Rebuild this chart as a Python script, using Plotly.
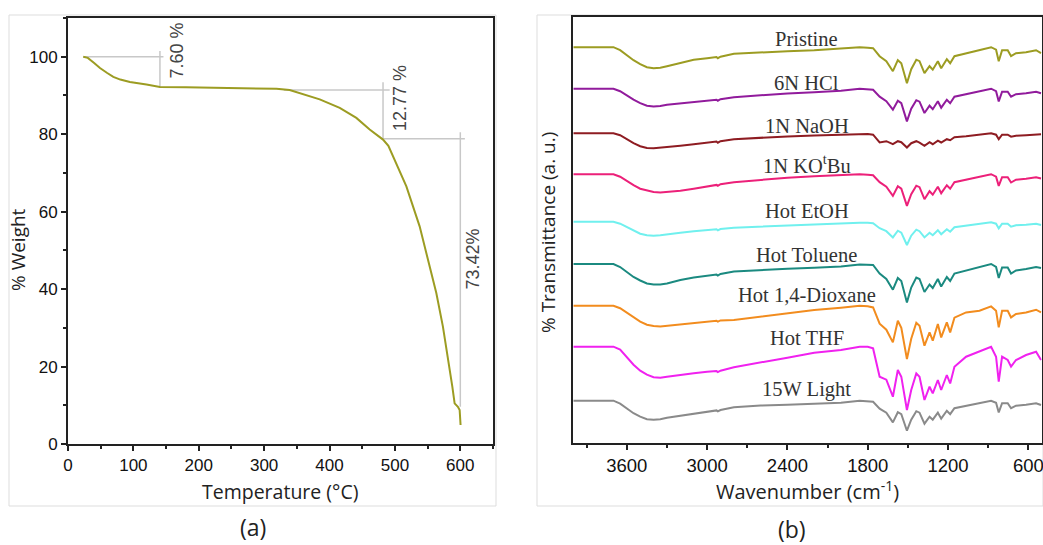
import plotly.graph_objects as go

# ---------------- (a) TGA data ----------------
temp_c = [23.4, 30.3, 40, 48.9, 60, 69.3, 80, 94.7, 120, 140.6, 180, 220, 260, 300,
          318.8, 339, 359.6, 385, 415.6, 441, 461.4, 481.8, 490, 497, 517.5, 537.8,
          550.5, 563.3, 573.4, 583.6, 587.8, 591.3, 596.3, 599, 600.4]
weight_pct = [100, 99.7, 98.4, 97.1, 95.8, 94.8, 94.1, 93.5, 92.8, 92.2, 92.1, 92.0,
              91.9, 91.8, 91.7, 91.4, 90.3, 89.0, 86.8, 84.2, 81.2, 78.6, 77.0, 74.3,
              66.5, 56.2, 47.6, 39.0, 30.3, 20.0, 14.8, 10.5, 9.6, 8.8, 4.9]

# weight-loss step markers
loss_labels = ["7.60 %", "12.77 %", "73.42%"]
loss_x = [140.6, 481.8, 600]
loss_top = [101.5, 93.4, 80.5]
loss_bottom = [92.2, 78.6, 9.6]
level_y = [100, 91.4, 78.8]
level_x0 = [23, 330, 481.8]
level_x1 = [146, 492, 607]
label_x = [166, 507, 619]
label_y = [101.5, 89.2, 47.8]

# ---------------- (b) FTIR data ----------------
wavenumber = [4000, 3900, 3800, 3700, 3650, 3600, 3550, 3500, 3450, 3400, 3350, 3300,
              3200, 3100, 3000, 2930, 2920, 2900, 2800, 2600, 2400, 2200, 2000, 1860,
              1800, 1760, 1711, 1661, 1612, 1575, 1549, 1507, 1475, 1437, 1413, 1376,
              1338, 1314, 1276, 1251, 1209, 1184, 1152, 1065, 965, 878, 841, 821, 796,
              754, 729, 692, 617, 542, 505]

pristine = [395.5, 395.5, 395.5, 395.5, 392.5, 387.5, 382.5, 378.5, 375.5, 374.5, 375, 376.5,
            379.5, 383, 384.5, 385.7, 384.5, 386, 389, 390.5, 391.5, 392.5, 394, 395.5,
            395, 394.5, 386.5, 381.5, 371.5, 382.5, 379.5, 359.5, 373.5, 383, 381.5, 369.5,
            376.5, 373, 381.5, 374.5, 383.5, 379.5, 386.5, 389.5, 393, 395.5, 393, 381.5, 392.5,
            392.5, 386.5, 389.5, 390.5, 392.5, 389.5]
hcl_6n = [354, 354, 354, 354, 351.5, 347, 343, 339.5, 337, 336.3, 336.7, 338,
          339.5, 341, 342.5, 343, 342, 343.5, 345.5, 347.5, 349.2, 350.5, 352, 354,
          353.5, 353, 346, 341.5, 333, 342, 339.5, 321.3, 334, 342.5, 341, 329.7,
          337, 333.5, 341.5, 335, 343, 339.5, 346, 348.5, 351.5, 354, 351.5, 341.3, 351,
          351, 346, 348.5, 349.5, 351, 349.5]
naoh_1n = [309.5, 309.5, 309.5, 309.5, 307.5, 303.5, 299.5, 296.5, 294.7, 294.5, 295, 296,
           297, 298.5, 300, 301.1, 300, 301.5, 303.5, 305.2, 306.3, 307.2, 308, 308.8,
           308.8, 308, 300.2, 301.5, 298.5, 301.5, 300.5, 295.2, 299.5, 301.5, 300, 296.8,
           300.5, 298.5, 302, 300.2, 303.5, 302.5, 305.5, 306.5, 308, 309.5, 308, 303.5, 308,
           308, 306, 307, 307.5, 308.5, 308.5]
kotbu_1n = [268.5, 268.5, 268.5, 268.5, 266, 261.5, 257.5, 254, 252, 250.7, 250.1, 250.5,
            252, 254, 256.5, 257.8, 256.8, 258.5, 260.5, 263, 265, 266.5, 267.5, 268.5,
            268, 267.5, 260.5, 256, 246.8, 256.5, 254, 236.8, 248.5, 257, 255.5, 243.5,
            251.5, 248, 256, 249.5, 257.5, 254, 260.5, 263, 266, 268.5, 266, 256.8, 265.5,
            265.5, 260.2, 263, 264, 265.5, 264.2]
hot_etoh = [221, 221, 221, 221, 219, 215.5, 212, 209, 207.5, 207, 207.5, 208.5,
            210, 211.5, 212.7, 213.4, 212.4, 213.7, 215, 216.2, 217.4, 218.6, 219.4, 220,
            220, 219.5, 214.5, 211.5, 205.3, 212, 210, 197.7, 207, 213, 211.5, 205.3,
            210, 207.5, 212.5, 208.5, 213.5, 211, 215.5, 217, 219, 220.5, 219, 214.3, 219,
            219, 216, 217.5, 218, 219, 217.7]
hot_toluene = [178.7, 178.7, 178.7, 178.7, 175.7, 170.7, 165.7, 162.2, 159.2, 158.3, 158.2, 159.2,
               162.7, 165.2, 167.2, 168.1, 167.1, 168.7, 171.2, 172.9, 173.9, 174.9, 176.2, 178.2,
               178.2, 177.7, 169.2, 163.7, 153, 164.7, 161.7, 140.3, 155.2, 165.2, 163.7, 150.7,
               158.2, 154.7, 163.7, 156.2, 165.7, 161.7, 169.2, 172.2, 175.7, 178.7, 175.7, 164.7, 175.2,
               175.2, 169.2, 172.2, 173.7, 175.7, 174.7]
hot_dioxane = [137, 137, 137, 137, 134.5, 130, 125, 121, 118, 116.7, 116.3, 117,
               118.5, 120, 121.3, 122, 121, 122.3, 122.7, 126, 129, 132.7, 135, 137,
               136.5, 135.3, 119, 113, 100.3, 122, 115, 83.7, 104, 120, 117, 97,
               110.3, 102, 118.7, 105.3, 120.3, 110.3, 125, 130.3, 132, 136.3, 132, 115.3, 132,
               132, 125.3, 128.7, 130.3, 133, 130.3]
hot_thf = [96, 96, 96, 96, 93, 85, 78, 72, 68, 65.5, 65, 66,
           68, 69.5, 71, 71.6, 70.6, 72, 75.5, 80, 85, 90, 92.7, 96,
           96, 94.3, 66, 63, 46, 72.7, 66, 32.7, 52.7, 69.3, 66, 42.7,
           56, 49.3, 62.7, 52.7, 67.7, 59.3, 76, 86, 91, 96, 86, 61, 86,
           82.7, 76, 82.7, 87.7, 91, 82.7]
light_15w = [42, 42, 42, 42, 39, 34, 29.5, 26, 23.5, 23, 23.5, 25,
             27, 29.5, 31.3, 32.3, 31.3, 32.7, 35.5, 37.2, 38, 38.7, 40, 42,
             41.5, 41, 34, 30, 20.3, 30.5, 28.5, 12, 23, 31.5, 30, 19,
             26, 23, 30, 24, 32, 28.5, 34.5, 37, 40, 42, 40, 30.3, 39.5,
             39.5, 34.5, 37, 38, 39.5, 37.7]

ir_names = ["Pristine", "6N HCl", "1N NaOH", "1N KO<sup>t</sup>Bu", "Hot EtOH",
            "Hot Toluene", "Hot 1,4-Dioxane", "Hot THF", "15W Light"]
ir_series = [pristine, hcl_6n, naoh_1n, kotbu_1n, hot_etoh, hot_toluene,
             hot_dioxane, hot_thf, light_15w]
ir_label_y = [404, 360, 317, 279, 231.3, 188, 148, 104.7, 53]
ir_label_x = 2255
ir_colors = ["#9c9c22", "#911b9c", "#8e1c22", "#ec2079", "#70f0ee",
             "#1b8a80", "#f28c1e", "#f021ef", "#8a8a8a"]

fig = go.Figure()

# TGA reference lines
for i in range(len(loss_labels)):
    fig.add_trace(go.Scatter(x=[level_x0[i], level_x1[i]], y=[level_y[i], level_y[i]],
                             mode="lines", line=dict(color="#c8c8c8", width=1.5),
                             xaxis="x", yaxis="y", showlegend=False, hoverinfo="skip"))
    fig.add_trace(go.Scatter(x=[loss_x[i], loss_x[i]], y=[loss_top[i], loss_bottom[i]],
                             mode="lines", line=dict(color="#c8c8c8", width=1.5),
                             xaxis="x", yaxis="y", showlegend=False, hoverinfo="skip"))

fig.add_trace(go.Scatter(x=temp_c, y=weight_pct, mode="lines",
                         line=dict(color="#9c9c22", width=2),
                         xaxis="x", yaxis="y", showlegend=False))

for name, ys, col in zip(ir_names, ir_series, ir_colors):
    fig.add_trace(go.Scatter(x=wavenumber, y=ys, mode="lines", name=name,
                             line=dict(color=col, width=2),
                             xaxis="x2", yaxis="y2", showlegend=False))

W, H = 1043, 545
annotations = []
for i, lab in enumerate(loss_labels):
    annotations.append(dict(x=label_x[i], y=label_y[i], xref="x", yref="y", text=lab,
                            textangle=-90, showarrow=False,
                            font=dict(family="Liberation Sans, Arial", size=18, color="#444")))
for name, ly in zip(ir_names, ir_label_y):
    annotations.append(dict(x=ir_label_x, y=ly, xref="x2", yref="y2", text=name,
                            showarrow=False,
                            font=dict(family="Liberation Serif, serif", size=20.5, color="#333")))

def pa(px, py, text, size, angle=0, family="Open Sans"):
    return dict(x=px / W, y=1 - py / H, xref="paper", yref="paper", text=text,
                showarrow=False, textangle=angle, xanchor="center", yanchor="middle",
                font=dict(family=family, size=size, color="#222"))

annotations += [
    pa(18, 250, "% Weight", 19, -90),
    pa(280, 491, "Temperature (°C)", 19.5),
    pa(548, 233, "% Transmittance (a. u.)", 19, -90),
    pa(807, 490, "Wavenumber (cm<sup>-1</sup>)", 20),
    pa(253, 527, "(a)", 23),
    pa(792, 529, "(b)", 23),
]

axis_common = dict(showline=True, linecolor="#222", linewidth=2, mirror=True,
                   ticks="outside", tickcolor="#222", tickwidth=1.5, ticklen=5,
                   showgrid=False, zeroline=False, automargin=False,
                   ticklabeloverflow="allow")

fig.update_layout(
    width=W, height=H,
    margin=dict(l=0, r=0, t=0, b=0, autoexpand=False),
    paper_bgcolor="white", plot_bgcolor="white",
    xaxis=dict(domain=[68 / W, 493 / W], range=[0, 650], anchor="y",
               tickvals=[0, 100, 200, 300, 400, 500, 600],
               minor=dict(ticks="outside", ticklen=3, tickcolor="#222", tickwidth=1.5, dtick=50, tick0=0),
               tickfont=dict(family="Liberation Sans, Arial", size=17, color="#111"),
               **axis_common),
    yaxis=dict(domain=[1 - 444 / H, 1 - 18 / H], range=[0, 110], anchor="x",
               tickvals=[0, 20, 40, 60, 80, 100],
               minor=dict(ticks="outside", ticklen=3, tickcolor="#222", tickwidth=1.5, dtick=10, tick0=0),
               tickfont=dict(family="Liberation Sans, Arial", size=17, color="#111"),
               **axis_common),
    xaxis2=dict(domain=[573.3 / W, 1041.7 / W], range=[4000, 500], anchor="y2",
                tickvals=[3600, 3000, 2400, 1800, 1200, 600],
                minor=dict(ticks="outside", ticklen=3, tickcolor="#222", tickwidth=1.5, dtick=300, tick0=0),
                tickfont=dict(family="Liberation Sans, Arial", size=18.5, color="#111"),
                **axis_common),
    yaxis2=dict(domain=[1 - 442.7 / H, 1 - 17.3 / H], range=[0, 425.4], anchor="x2",
                showline=True, linecolor="#222", linewidth=2, mirror=True, automargin=False,
                ticks="", showticklabels=False, showgrid=False, zeroline=False),
    annotations=annotations,
    shapes=[
        dict(type="rect", xref="paper", yref="paper", x0=9 / W, x1=496 / W,
             y0=1 - 506 / H, y1=1 - 15 / H, line=dict(color="#dddddd", width=1), layer="below"),
        dict(type="rect", xref="paper", yref="paper", x0=537 / W, x1=1.0,
             y0=1 - 506 / H, y1=1 - 15 / H, line=dict(color="#dddddd", width=1), layer="below"),
    ],
)

fig.write_html("out.html", config={"displayModeBar": False},
               post_script="document.body.style.margin='0';document.body.style.overflow='hidden';")
